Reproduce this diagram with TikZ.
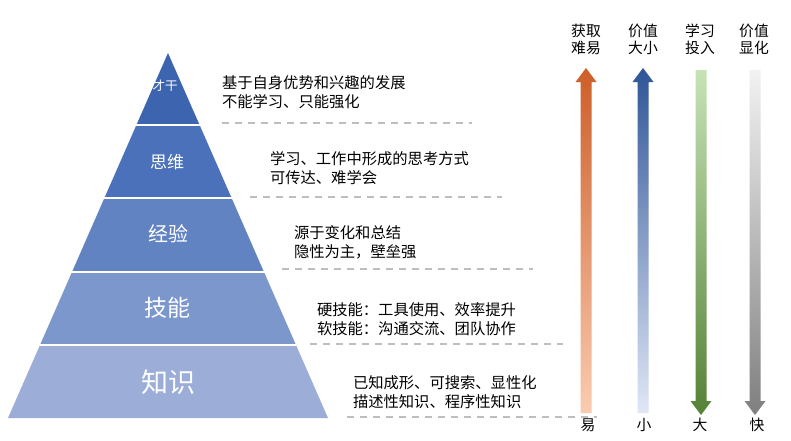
\documentclass[tikz,border=0pt]{standalone}
\usepackage{fontspec}
\newfontfamily\cjk{Noto Sans CJK SC}
\usetikzlibrary{calc}
\definecolor{layA}{RGB}{61,100,174}
\definecolor{layB}{RGB}{74,113,186}
\definecolor{layC}{RGB}{98,131,194}
\definecolor{layD}{RGB}{124,151,204}
\definecolor{layE}{RGB}{156,174,216}
\definecolor{orTop}{RGB}{205,94,40}
\definecolor{orBot}{RGB}{250,204,176}
\definecolor{blTop}{RGB}{47,85,151}
\definecolor{blBot}{RGB}{224,231,246}
\definecolor{grTop}{RGB}{200,226,184}
\definecolor{grBot}{RGB}{84,130,53}
\definecolor{gyTop}{RGB}{242,242,242}
\definecolor{gyBot}{RGB}{127,127,127}
\definecolor{dashgray}{RGB}{190,190,190}
\newcommand{\uparrowshape}[5]{%
  \shade[top color=#4,bottom color=#5] (#1,#2) -- (#1+10.5,#2+14) -- (#1+5.5,#2+14) -- (#1+5.5,#3) -- (#1-5.5,#3) -- (#1-5.5,#2+14) -- (#1-10.5,#2+14) -- cycle;}
\newcommand{\downarrowshape}[5]{%
  \shade[top color=#4,bottom color=#5] (#1-5.5,#2) -- (#1+5.5,#2) -- (#1+5.5,#3-14) -- (#1+10.5,#3-14) -- (#1,#3) -- (#1-10.5,#3-14) -- (#1-5.5,#3-14) -- cycle;}
\begin{document}
\begin{tikzpicture}[x=1pt,y=-1pt,
  every node/.style={inner sep=0pt, outer sep=0pt},
  desc/.style={anchor=west, align=left, font={\cjk\fontsize{15.3}{19}\selectfont}},
  lab/.style={align=center, font={\cjk\fontsize{14.8}{17.5}\selectfont}},
  sep/.style={draw=dashgray, line width=1.2pt, dash pattern=on 7pt off 6pt},
  layerline/.style={draw=white, line width=1.3pt}]
\useasboundingbox[fill=white] (0,0) rectangle (791,440);
% pyramid layers
\fill[layA] (168,53) -- (199.6,125) -- (136.4,125) -- cycle;
\fill[layB] (136.4,125) -- (199.6,125) -- (231.6,198) -- (104.4,198) -- cycle;
\fill[layC] (104.4,198) -- (231.6,198) -- (264,272) -- (72,272) -- cycle;
\fill[layD] (72,272) -- (264,272) -- (296,345) -- (40,345) -- cycle;
\fill[layE] (40,345) -- (296,345) -- (328,418) -- (8,418) -- cycle;
\draw[layerline] (135,125) -- (201,125);
\draw[layerline] (103,198) -- (233,198);
\draw[layerline] (71,272) -- (265,272);
\draw[layerline] (39,345) -- (297,345);
% pyramid labels
\node[text=white, font={\cjk\fontsize{12.5}{14}\selectfont}] (caigan) at (165,86) {才干};
\node[text=white, font={\cjk\fontsize{17}{20}\selectfont}] (siwei) at (167,162) {思维};
\node[text=white, font={\cjk\fontsize{20}{24}\selectfont}] (jingyan) at (168,234) {经验};
\node[text=white, font={\cjk\fontsize{23}{27}\selectfont}] (jineng) at (167,308) {技能};
\node[text=white, font={\cjk\fontsize{27}{31}\selectfont}] (zhishi) at (168,382) {知识};
% descriptions
\node[desc] (d1) at (222,92.5) {基于自身优势和兴趣的发展\\不能学习、只能强化};
\node[desc] (d2) at (270,168) {学习、工作中形成的思考方式\\可传达、难学会};
\node[desc] (d3) at (294,242) {源于变化和总结\\隐性为主，壁垒强};
\node[desc] (d4) at (317,319) {硬技能：工具使用、效率提升\\软技能：沟通交流、团队协作};
\node[desc] (d5) at (353,392.5) {已知成形、可搜索、显性化\\描述性知识、程序性知识};
% dashed separators
\draw[sep] (222,123) -- (472,123);
\draw[sep] (250,197) -- (502,197);
\draw[sep] (282,269) -- (533,269);
\draw[sep] (310,344) -- (563,344);
\draw[sep] (347,417) -- (597,417);
% arrows
\uparrowshape{586}{68}{413}{orTop}{orBot}
\uparrowshape{643}{68}{413}{blTop}{blBot}
\downarrowshape{701}{70}{415}{grTop}{grBot}
\downarrowshape{755}{70}{415}{gyTop}{gyBot}
% arrow labels
\node[lab] (t1) at (586,39.5) {获取\\难易};
\node[lab] (t2) at (643,39.5) {价值\\大小};
\node[lab] (t3) at (700,39.5) {学习\\投入};
\node[lab] (t4) at (754,39.5) {价值\\显化};
\node[lab] (b1) at (588,425) {易};
\node[lab] (b2) at (644,425) {小};
\node[lab] (b3) at (700,425) {大};
\node[lab] (b4) at (757,425) {快};
\end{tikzpicture}
\end{document}
